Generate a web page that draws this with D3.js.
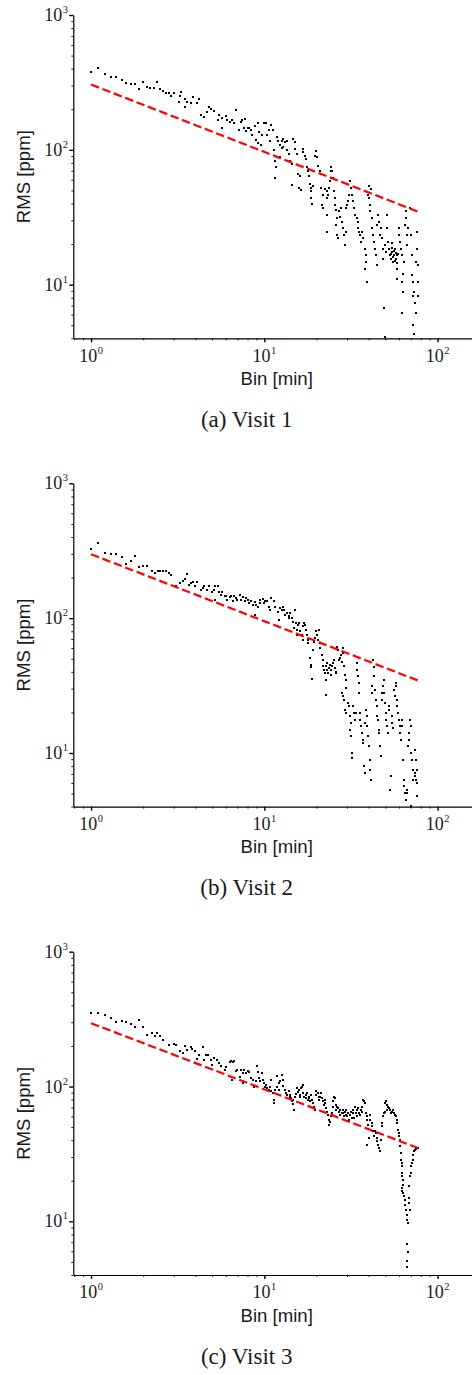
<!DOCTYPE html>
<html><head><meta charset="utf-8">
<script src="https://cdn.jsdelivr.net/npm/d3@7"></script>
<style>body{margin:0;background:#fff}</style>
</head><body>
<svg id="c" width="472" height="1375"></svg>
<script>
// ---------------- data ----------------
const captions = ["(a) Visit 1", "(b) Visit 2", "(c) Visit 3"];
const xLabel = "Bin [min]";
const yLabel = "RMS [ppm]";
const xMajor = [1, 10, 100];
const xMajorExp = ["0", "1", "2"];
const xMinor = [0.8, 0.9, 2, 3, 4, 5, 6, 7, 8, 9, 20, 30, 40, 50, 60, 70, 80, 90];
const yMajor = [10, 100, 1000];
const yMajorExp = ["1", "2", "3"];
const yMinor = [4, 5, 6, 7, 8, 9, 20, 30, 40, 50, 60, 70, 80, 90, 200, 300, 400, 500, 600, 700, 800, 900];
const tickBase = "10";

// red dashed reference (power law, white noise ~ 1/sqrt(N)): end points
const fitBin = [1, 77];
const fitRms1 = [305, 34.8];
const fitRms2 = [298, 34.5];
const fitRms3 = [295, 35];

// [bin (min), rms (ppm)]
const visit1 = [
[1.0,379],[1.1,402],[1.2,362],[1.3,348],[1.4,347],[1.5,328],[1.6,314],[1.7,310],[1.8,310],[1.9,285],[2.0,319],[2.1,293],[2.2,288],[2.3,288],[2.4,319],[2.5,282],[2.6,272],[2.7,265],[2.8,262],[2.9,250],[3.0,262],[3.2,227],[3.25,250],[3.3,268],[3.5,237],[3.5,208],[3.6,227],[3.8,221],[3.9,247],[4.1,224],[4.2,237],[4.3,180],[4.5,175],[4.7,192],[4.8,208],[4.9,202],[5.1,195],[5.4,166],[5.5,180],[5.7,172],[5.7,146],[6.0,177],[6.1,166],[6.3,162],[6.5,166],[6.7,158],[6.9,197],[7.1,140],[7.3,162],[7.4,166],[7.6,146],[7.7,168],[7.8,137],[8.0,144],[8.2,146],[8.4,140],[8.5,128],[8.8,150],[9.0,118],[9.2,112],
[9.24,158],[9.36,135],[9.95,158],[10.2,158],[9.65,128],[10.3,128],[10.7,140],[11.0,153],[11.2,141],[10.8,117],[11.3,99],[9.52,108],[11.8,124],[12.0,117],[12.3,108],[12.6,117],[12.9,121],[13.2,114],[13.5,117],[12.8,105],[12.3,88],[12.6,104],[11.5,83],[11.7,74],[11.5,61.5],[13.5,99],[13.8,93],[14.1,83],[14.4,78],[14.4,54.8],[14.7,121],[15.0,114],[15.0,101],[15.4,93],[15.7,66],[16.1,64],[15.9,52.3],[16.2,50],[16.7,101],[16.8,96],[17.2,90.5],[17.4,85.5],[17.6,74],[17.9,70],[18.1,64],[18.3,55.4],[18.5,52.3],[18.7,49.4],[18.7,44],[18.9,39.6],[19.2,54],[19.6,90.5],[20.0,98.7],[20.2,88],[20.5,76],[20.9,70],[21.2,52.3],[21.4,39.2],[21.7,37],[21.9,46.6],[22.4,51],[22.9,49.4],[23.1,44],[23.1,33],[22.9,24.7],[23.4,46.6],[23.7,52.3],[23.9,58.7],[24.1,69.8],[24.4,74],[24.7,69.8],[25.0,62],[25.3,49.4],[25.5,44],[25.7,39.2],[26.1,36],[26.3,31],[26.1,27.7],[26.3,23.3],[26.7,22],[26.9,35],[27.3,32],[27.6,37],[27.9,29.4],[28.6,26.2],[28.8,23.3],[29.2,19.6],[29.6,24.7],[29.8,37],[30.1,39.2],[30.5,41.5],[30.8,46.6],[31.2,58.7],[31.6,52.3],[32.2,46.6],[32.6,41.5],[33.1,37],[33.4,33],[34.1,31],[34.6,29.4],[34.9,26.2],[35.4,24.7],[35.6,23.3],[36.2,20.8],[36.7,24.7],[37.2,22],[38.1,18.5],[38.4,16.5],[38.6,14.7],[38.1,13.1],[38.9,10.4],[39.8,46.6],[40.3,44],[40.7,39.2],[41.0,35],[41.6,31],[40.3,54],[41.2,51],[41.9,26.2],[42.5,23.3],[42.9,20.8],[43.5,18.5],[43.9,16.5],[44.5,13.9],[44.9,27.7],[45.5,33],[45.9,29.4],[46.5,23.3],[47.1,26.2],[47.6,22],[48.2,18.5],[48.6,15.6],[49.3,6.7],[49.7,4.1],[49.7,19.6],[50.1,17.5],[50.8,33],[51.3,26.2],[51.9,20.8],[52.6,18.5],[53.1,16.5],[53.5,15.6],[53.8,17],[54.3,20.2],[54.5,18.8],[54.7,17.5],[55.2,16],[55.5,14.7],[56.0,16.5],[56.3,17.8],[56.7,18.5],[57.0,15],[57.5,15.6],[57.8,17.2],[58.0,13.1],[58.0,11.0],[58.4,14.5],[58.7,16.5],[59.2,16.8],[59.8,26.2],[60.0,23.3],[60.6,20.8],[61.4,18.5],[62.0,16.5],[62.5,10.4],[62.8,8.75],[62.0,6.2],[63.4,12.0],[63.9,14.7],[64.8,27.7],[65.4,31],[65.9,35],[66.2,23.3],[66.8,19.6],[67.6,26.2],[69.2,37],[69.8,23.3],[70.8,16.5],[71.4,11.7],[72.4,10.4],[73.0,8.75],[74.0,7.36],[74.7,6.2],[72.4,5.04],[73.3,4.3],[75.6,24.7],[76.2,18.5],[77.3,13.9],[76.6,10.4],[77.3,8.26],[75.0,14.7],[71.7,8.26]
];

const visit2 = [
[1.0,326],[1.1,363],[1.2,306],[1.3,300],[1.4,298],[1.5,286],[1.6,252],[1.7,267],[1.8,289],[1.9,241],[2.0,244],[2.1,244],[2.25,222],[2.35,215],[2.45,222],[2.5,225],[2.6,225],[2.7,222],[2.8,217],[2.9,209],[3.1,172],[3.25,182],[3.4,190],[3.5,194],[3.6,211],[3.7,177],[3.8,182],[3.9,184],[4.0,174],[4.1,187],[4.3,162],[4.4,167],[4.5,172],[4.7,162],[4.7,138],[4.8,172],[5.0,157],[5.1,162],[5.2,172],[5.2,137],[5.4,174],[5.5,157],[5.6,149],[5.7,157],[5.9,145],[6.0,147],[6.1,137],[6.3,143],[6.4,145],[6.6,133],[6.7,147],[6.9,140],[7.0,137],[7.2,149],[7.3,137],[7.5,143],[7.7,133],[7.8,140],[8.0,137],[8.2,129],[8.4,133],[8.6,125],[8.8,131],[8.8,106],[9.0,125],[9.2,120],[9.4,129],
[9.5,137],[9.8,139],[10.0,129],[10.1,133],[10.3,133],[10.6,122],[10.8,115],[11.0,141],[11.3,133],[11.5,122],[12.0,112],[12.2,97],[12.3,118],[12.6,115],[12.8,122],[13.0,115],[13.2,106],[13.5,109],[13.8,103],[13.9,100],[14.1,109],[14.4,100],[14.6,94],[14.9,84],[15.0,115],[15.2,92],[15.4,75],[15.5,82],[15.7,89],[15.9,92],[16.1,80],[16.4,75],[16.7,69],[16.8,87],[17.0,92],[17.2,89],[17.4,82],[17.6,75],[17.8,69],[17.9,65],[18.3,50.5],[18.5,43.8],[18.7,45],[18.9,35.3],[19.2,58],[19.3,67],[19.6,71],[19.8,80],[20.2,75],[20.5,69],[20.7,82],[20.9,65],[21.1,60],[21.4,53.5],[21.7,49],[21.9,44],[22.1,41.4],[22.4,39],[22.7,44],[22.9,46.4],[23.1,41.4],[23.4,39],[23.7,42.6],[23.9,45],[24.1,41.4],[24.4,38],[24.7,44],[25.0,46.4],[25.3,49],[25.5,42.6],[25.9,39],[26.1,40.2],[26.4,61.6],[26.7,58],[27.0,49],[27.3,50.5],[27.6,53.5],[27.9,47.7],[28.3,60],[28.6,55],[28.9,44],[29.3,38],[29.6,35],[29.8,30.3],[22.7,27],[22.6,34.5],[27.9,27.8],[28.3,26.3],[28.8,24.8],[29.2,20.9],[29.8,19.8],[30.5,23.5],[30.8,22.2],[31.2,18.7],[31.6,16.7],[31.2,14.9],[31.6,13.3],[31.9,10],[32.2,9.2],[32.6,22.2],[33.1,19.8],[33.4,17.6],[33.9,19.8],[34.1,46.4],[34.4,41.4],[34.7,37],[35.0,33],[35.4,27.8],[35.6,19.8],[35.9,17.6],[36.3,15.8],[36.6,14.1],[36.9,12.5],[37.2,11.9],[37.6,8.0],[37.9,7.1],[38.2,16.7],[38.6,20.9],[38.9,18.7],[39.4,15.8],[39.8,13.3],[40.1,11.2],[40.5,8.9],[40.9,7.5],[41.2,6.35],[41.6,27.8],[41.9,31.2],[42.3,49],[42.7,43.8],[43.1,37],[43.5,29.4],[43.9,24.8],[44.5,22.2],[44.9,18.7],[45.3,17.6],[45.7,14.9],[46.1,14.1],[46.5,11.2],[46.9,9.45],[47.6,24.8],[48.0,27.8],[48.4,31.2],[48.8,34.9],[49.3,27.8],[49.7,23.5],[50.1,19.8],[50.6,17.6],[51.0,15.8],[51.7,14.1],[52.1,22.2],[52.6,20.9],[53.1,5.35],[53.5,6.7],[54.3,18.7],[54.7,16.7],[55.5,15.3],[56.2,29.4],[56.7,26.3],[57.2,33],[57.7,31.2],[58.2,24.8],[58.7,22.2],[59.3,19.8],[59.8,17.6],[60.3,15.8],[60.9,14.1],[61.4,12.5],[62.0,17.6],[62.5,15.8],[63.1,8.9],[63.6,6.35],[64.2,5.66],[64.8,5.05],[65.4,4.5],[66.2,5.35],[67.0,5.05],[67.6,11.2],[68.1,12.5],[68.7,14.1],[69.2,17.6],[69.8,15.8],[70.4,10.0],[71.0,8.9],[71.7,7.5],[72.3,6.35],[73.6,7.1],[74.2,6.7],[75.3,6.35],[75.9,6.0],[74.2,10.6],[74.9,8.9],[75.6,7.5],[76.2,4.77],[70.4,4.02]
];

const visit3 = [
[1.0,350],[1.1,350],[1.2,337],[1.3,321],[1.4,301],[1.5,308],[1.6,301],[1.7,290],[1.8,275],[1.9,309],[2.0,278],[2.1,241],[2.25,251],[2.35,235],[2.4,251],[2.5,235],[2.6,222],[2.8,204],[3.0,208],[3.1,204],[3.25,185],[3.4,177],[3.5,201],[3.6,187],[3.75,196],[3.85,189],[4.0,182],[4.1,160],[4.2,172],[4.4,196],[4.5,158],[4.6,172],[4.75,170],[4.9,156],[5.0,145],[5.1,163],[5.35,158],[5.5,149],[5.6,143],[5.9,133],[6.0,139],[6.3,151],[6.4,154],[6.6,151],[6.5,111],[6.7,154],[6.9,130],[7.0,133],[7.2,118],[7.3,133],[7.5,106],
[7.5,126],[7.6,133],[7.85,126],[8.0,131],[8.2,129],[8.35,115],[8.6,112],[8.7,99],[8.95,109],[9.1,141],[9.2,129],[9.35,115],[9.5,109],[9.65,127],[9.8,112],[9.95,106],[10.1,99],[10.2,103],[10.4,97],[10.7,94.5],[10.8,99],[10.9,92],[11.0,112],[11.2,89],[11.3,80],[11.4,75],[11.55,94.5],[11.8,120],[11.9,99],[12.1,106],[12.2,94.5],[12.3,109],[12.6,122],[12.8,112],[12.9,101],[13.2,94.5],[13.4,90],[13.6,87],[13.8,92],[14.0,87],[14.1,83],[14.2,82],[14.4,77.5],[14.6,74.5],[14.9,67],[14.7,80],[15.1,84],[15.3,88],[15.4,97],[15.6,91],[15.8,94.5],[16.0,84],[16.1,87],[16.2,97],[16.5,100],[16.7,103],[16.8,89],[17.0,84],[17.3,87],[17.4,82],[17.6,89],[17.8,80],[18.1,84],[18.2,82],[18.3,77.5],[18.6,87],[18.9,80],[19.2,75],[19.4,71],[19.7,67],[19.8,92],[20.0,87],[20.3,90],[20.6,84],[20.8,80],[20.9,84],[21.2,89],[21.5,82],[21.7,77.5],[22.0,73],[22.3,80],[22.5,75],[22.7,69],[23.0,65],[23.3,62],[23.5,56.7],[23.7,52],[23.9,55],[24.1,60],[24.5,63.5],[24.8,71],[25.0,77.5],[25.3,84],[25.6,82],[25.9,67],[26.1,73],[26.3,71],[26.7,69],[26.9,65],[27.3,67],[27.5,62],[27.9,63.5],[28.3,67],[28.6,63.5],[28.9,60],[29.2,65],[29.5,62],[29.8,67],[30.2,60],[30.5,63.5],[30.9,56.7],[31.2,62],[31.6,65],[31.9,58],[32.3,67],[32.6,63.5],[32.9,58],[33.3,71],[33.8,63.5],[34.1,67],[34.4,60],[34.9,69],[35.4,63.5],[35.6,62],[36.1,67],[36.4,65],[36.7,71],[37.2,80],[37.7,77.5],[38.2,75],[38.6,63.5],[38.9,60],[39.4,56.7],[39.8,52],[39.4,37],[40.1,41.4],[40.7,62],[41.0,56.7],[41.6,53.5],[42.1,50.6],[42.5,46.4],[42.9,42.6],[43.5,46.4],[44.1,45.1],[44.5,41.4],[44.9,39.2],[45.5,37],[45.9,35],[46.3,33],[47.0,40.3],[47.6,50.6],[48.0,53.5],[48.4,60],[48.8,63.5],[49.5,65],[49.9,75.3],[50.4,77.5],[50.8,73],[51.3,67],[51.9,71],[52.6,69],[53.3,67],[54.0,63.5],[54.7,65],[55.5,67],[56.2,63.5],[57.0,62],[57.5,60],[58.0,56.7],[58.5,53.5],[59.3,47.8],[59.8,45.1],[60.1,42.6],[60.6,40.3],[60.9,36],[61.4,32.1],[61.7,28.6],[62.3,27.1],[62.5,25.6],[62.0,22.8],[62.5,21.6],[63.1,20.4],[63.4,18.7],[62.5,17.7],[62.0,16.7],[63.1,16.2],[63.9,15.3],[64.5,14.5],[65.0,13.3],[65.6,12.2],[66.2,11.2],[66.8,10.3],[67.5,9.7],[68.4,18.2],[69.2,21.6],[69.8,22.8],[70.5,25.6],[71.4,27.1],[72.0,28.6],[72.4,31.2],[73.0,33],[74.0,34],[75.0,34.4],[76.0,35],[77.0,35],[66.8,6.75],[67.1,5.9],[66.8,5.1],[66.2,4.55],[68.7,14.9],[68.7,13.7],[69.2,12.2]
];

const visits = [visit1, visit2, visit3];
const fits = [fitRms1, fitRms2, fitRms3];

// ---------------- drawing ----------------
const svg = d3.select("#c");
const SERIF = "'Liberation Serif','Times New Roman',serif";
const SANS = "'Liberation Sans',Arial,sans-serif";
const x = d3.scaleLog().domain([0.79, 158]).range([73.3, 472]);
const panelTop = [15, 483.35, 951.7];
const plotH = 323.3;

function drawPanel(k) {
  const top = panelTop[k], bot = top + plotH;
  const y = d3.scaleLog().domain([4, 1000]).range([bot, top]);
  const g = svg.append("g");

  // points
  g.append("g").attr("shape-rendering", "crispEdges")
    .selectAll("rect").data(visits[k]).join("rect")
    .attr("x", d => Math.round(x(d[0]) - 1)).attr("y", d => Math.round(y(d[1]) - 1))
    .attr("width", 2).attr("height", 2).attr("fill", "#000");

  // dashed reference line
  g.append("path").datum(d3.zip(fitBin, fits[k]))
    .attr("d", d3.line().x(d => x(d[0])).y(d => y(d[1])))
    .attr("fill", "none").attr("stroke", "#ff0000")
    .attr("stroke-width", 2.2).attr("stroke-dasharray", "8.5,3.7");

  // y axis
  const ya = g.append("g").attr("transform", "translate(73.3,0)");
  ya.call(d3.axisLeft(y).tickValues(yMinor).tickSize(2).tickSizeOuter(0).tickFormat(""));
  ya.select(".domain").remove();
  ya.selectAll(".tick line").attr("stroke-width", 0.9);
  const yb = g.append("g").attr("transform", "translate(73.3,0)");
  yb.call(d3.axisLeft(y).tickValues(yMajor).tickSize(4).tickSizeOuter(0).tickFormat(""));
  yb.select(".domain").attr("stroke-width", 1.2);
  yb.selectAll(".tick line").attr("stroke-width", 1.4);

  // x axis
  const xa = g.append("g").attr("transform", `translate(0,${bot})`);
  xa.call(d3.axisBottom(x).tickValues(xMinor).tickSize(2).tickSizeOuter(0).tickFormat(""));
  xa.select(".domain").remove();
  xa.selectAll(".tick line").attr("stroke-width", 0.9);
  const xb = g.append("g").attr("transform", `translate(0,${bot})`);
  xb.call(d3.axisBottom(x).tickValues(xMajor).tickSize(4).tickSizeOuter(0).tickFormat(""));
  xb.select(".domain").attr("stroke-width", 1.2);
  xb.selectAll(".tick line").attr("stroke-width", 1.4);

  // y tick labels
  yMajor.forEach((v, i) => {
    const t = g.append("text").attr("x", 68).attr("y", y(v) + 6)
      .attr("text-anchor", "end").attr("font-family", SERIF)
      .attr("font-size", 18).attr("fill", "#1a1a1a");
    t.append("tspan").text(tickBase);
    t.append("tspan").attr("dy", -8).attr("dx", 0.5).attr("font-size", 10.5).text(yMajorExp[i]);
  });
  // x tick labels
  xMajor.forEach((v, i) => {
    const t = g.append("text").attr("x", x(v)).attr("y", bot + 23.4)
      .attr("text-anchor", "middle").attr("font-family", SERIF)
      .attr("font-size", 18).attr("fill", "#1a1a1a");
    t.append("tspan").text(tickBase);
    t.append("tspan").attr("dy", -8).attr("dx", 0.5).attr("font-size", 10.5).text(xMajorExp[i]);
  });

  // axis labels
  g.append("text").attr("x", 276.7).attr("y", top + 370)
    .attr("text-anchor", "middle").attr("font-family", SANS)
    .attr("font-size", 18.6).attr("fill", "#1a1a1a").text(xLabel);
  g.append("text").attr("transform", `translate(29.5,${top + plotH / 2}) rotate(-90)`)
    .attr("text-anchor", "middle").attr("font-family", SANS)
    .attr("font-size", 18.6).attr("fill", "#1a1a1a").text(yLabel);

  // caption
  g.append("text").attr("x", 246.7).attr("y", top + 412)
    .attr("text-anchor", "middle").attr("font-family", SERIF)
    .attr("font-size", 23).attr("fill", "#1a1a1a").text(captions[k]);
}

[0, 1, 2].forEach(drawPanel);
</script>
</body></html>
